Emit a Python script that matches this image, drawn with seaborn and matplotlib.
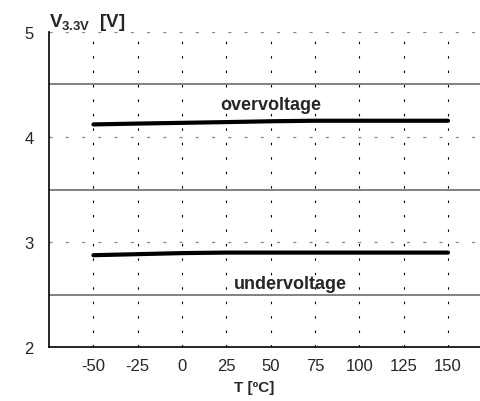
"""Supply voltage thresholds (V_3.3V) versus temperature."""
import matplotlib
matplotlib.use('Agg')
import matplotlib.pyplot as plt
from matplotlib.ticker import MultipleLocator
import pandas as pd
import seaborn as sns

temps = [-50, -25, 0, 25, 50, 75, 100, 125, 150]
over_v = [4.12, 4.128, 4.135, 4.142, 4.15, 4.155, 4.155, 4.155, 4.155]
under_v = [2.875, 2.885, 2.895, 2.9, 2.9, 2.9, 2.9, 2.9, 2.9]
series_names = ['overvoltage', 'undervoltage']
y_ticks = [2, 3, 4, 5]
x_ticks = [-50, -25, 0, 25, 50, 75, 100, 125, 150]


def main():
    """Draw the chart and save it as out.png."""
    sns.set_style('white')
    plt.rcParams['font.family'] = ['Liberation Sans', 'DejaVu Sans']
    plt.rcParams['mathtext.fontset'] = 'custom'
    plt.rcParams['mathtext.rm'] = 'Liberation Sans'
    plt.rcParams['mathtext.bf'] = 'Liberation Sans:bold'

    df = pd.DataFrame({
        'T': temps * 2,
        'V': over_v + under_v,
        'name': [series_names[0]] * len(temps) + [series_names[1]] * len(temps),
    })

    fig = plt.figure(figsize=(4.81, 4.02), dpi=100)
    ax = fig.add_axes([0.102, 0.134, 0.898, 0.784])

    # grid: dotted verticals, dashed at integers, solid at halves
    ax.set_xticks(x_ticks)
    ax.set_yticks(y_ticks)
    ax.yaxis.set_minor_locator(MultipleLocator(0.5))
    ax.grid(True, axis='x', color='black', lw=0.8, linestyle=(0, (2.2, 10.8)))
    ax.grid(True, axis='y', which='major', color='#888888', lw=0.9,
            linestyle=(0, (2.5, 10.5)))
    ax.grid(True, axis='y', which='minor', color='#777777', lw=1.3,
            linestyle='-')
    ax.set_axisbelow(True)

    sns.lineplot(data=df, x='T', y='V', units='name', estimator=None,
                 color='black', lw=3.0, ax=ax, legend=False)

    ax.set_xlim(-75, 168.6)
    ax.set_ylim(2, 5)
    ax.tick_params(axis='both', which='both', length=0, labelsize=12)
    ax.tick_params(axis='x', pad=8)
    ax.tick_params(axis='y', pad=11)
    ax.set_xticklabels([str(t) for t in x_ticks])
    ax.set_yticklabels([str(t) for t in y_ticks])

    for side in ['top', 'right']:
        ax.spines[side].set_visible(False)
    for side in ['left', 'bottom']:
        ax.spines[side].set_color('black')
        ax.spines[side].set_linewidth(1.2)

    ax.set_xlabel('T [ºC]', fontsize=11, fontweight='bold')
    ax.set_ylabel('')
    ax.xaxis.set_label_coords(0.475, -0.105)

    ax.text(50, 4.31, series_names[0], fontsize=13, fontweight='bold',
            ha='center', va='center')
    ax.text(61, 2.61, series_names[1], fontsize=13, fontweight='bold',
            ha='center', va='center')

    ax.text(0.0, 1.0, r'$\mathbf{V_{3.3V}}$  [V]', transform=ax.transAxes,
            fontsize=13.5, fontweight='bold', ha='left', va='bottom')

    fig.savefig('out.png', dpi=100)


if __name__ == '__main__':
    main()
